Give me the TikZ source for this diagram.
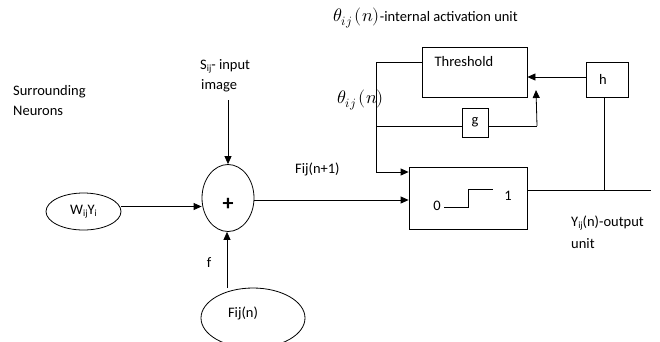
\documentclass[tikz,border=0pt]{standalone}
\usepackage{fontspec}
\usepackage{unicode-math}
\setmainfont{Carlito}
\setmathfont{Latin Modern Math}[Scale=1.25]
\usetikzlibrary{arrows.meta,shapes.geometric}
\newcommand\mysb[1]{\raisebox{-2pt}{\fontsize{9.5}{10}\selectfont #1}}
\begin{document}
\begin{tikzpicture}[x=1pt,y=-1pt,
  every node/.style={font=\fontsize{14.5}{17}\selectfont, inner sep=0pt},
  ln/.style={line width=0.8pt},
  arr/.style={ln,-{Triangle[length=8pt,width=7pt]}},
  blk/.style={draw,line width=0.8pt,rectangle},
  ell/.style={draw,line width=0.8pt,ellipse}]
\useasboundingbox (0,0) rectangle (660,341);
\clip (0,0) rectangle (660,341);
% texts
\node[anchor=west] (toplab) at (333,18) {$\theta_{ij}\,(n)$-internal activation unit};
\node[anchor=west] (sur1) at (13,92) {Surrounding};
\node[anchor=west] (sur2) at (13,111) {Neurons};
\node[anchor=west] (sin1) at (200,66) {S\mysb{ij}- input};
\node[anchor=west] (sin2) at (201,86) {image};
\node[anchor=west] (fnp) at (295,169) {Fij(n+1)};
\node (flab) at (209,263) {f};
\node[anchor=west] (thlab) at (337,100) {$\theta_{ij}\,(n)$};
\node[anchor=west] (yout1) at (571,223) {Y\mysb{ij}(n)-output};
\node[anchor=west] (yout2) at (571,244) {unit};
% blocks
\node[blk, minimum width=105pt, minimum height=50pt] (th) at (474.5,72) {};
\node (thtext) at (464,62) {Threshold};
\node[blk, minimum width=42pt, minimum height=35pt] (h) at (607,79.5) {};
\node (htext) at (603,79) {h};
\node[blk, minimum width=26pt, minimum height=29pt] (g) at (475,122.5) {g};
\node[blk, minimum width=118pt, minimum height=62pt] (step) at (468,198) {};
\node (zero) at (437,206) {0};
\node (one) at (508,196) {1};
\draw[ln] (444,207) -- (468,207) -- (468,189) -- (493,189);
\node[ell, minimum width=52pt, minimum height=67pt] (sum) at (228,198) {};
\node[font=\fontsize{22}{24}\selectfont\bfseries] (plus) at (228,204) {+};
\node[ell, minimum width=75pt, minimum height=37pt] (wy) at (83.5,211.5) {W\mysb{ij}Y\mysb{i}};
\node[ell, minimum width=104pt, minimum height=60pt] (fn) at (253,318) {};
\node (fntext) at (243,313) {Fij(n)};
% coordinates
\coordinate (sintop) at (228,100);
\coordinate (fbot) at (227,288);
\coordinate (lv) at (376,62);
\coordinate (lvb) at (376,172);
\coordinate (lvg) at (376,126);
\coordinate (gr) at (537,126);
\coordinate (gt) at (536,90);
\coordinate (outend) at (651,190);
\coordinate (hv) at (604,190);
% connectors
\draw[arr] (sintop) -- (sintop |- sum.north);
\draw[arr] ([yshift=5pt]wy.east) -- ([yshift=5pt]wy.east -| sum.west);
\draw[arr] (fbot) -- (fbot |- sum.south);
\draw[arr] (sum.east |- 0,200) -- (step.west |- 0,200);
\draw[ln] (th.west |- lv) -- (lv) -- (lvb);
\draw[arr] (lvb) -- (lvb -| step.west);
\draw[ln] (lvg) -- (lvg -| g.west);
\draw[ln] (g.east |- gr) -- (gr);
\draw[arr] (gr) -- (gt);
\draw[arr] (h.west |- 0,77) -- (th.east |- 0,77);
\draw[ln] (step.east |- outend) -- (outend);
\draw[ln] (h.south -| hv) -- (hv);
\end{tikzpicture}
\end{document}
